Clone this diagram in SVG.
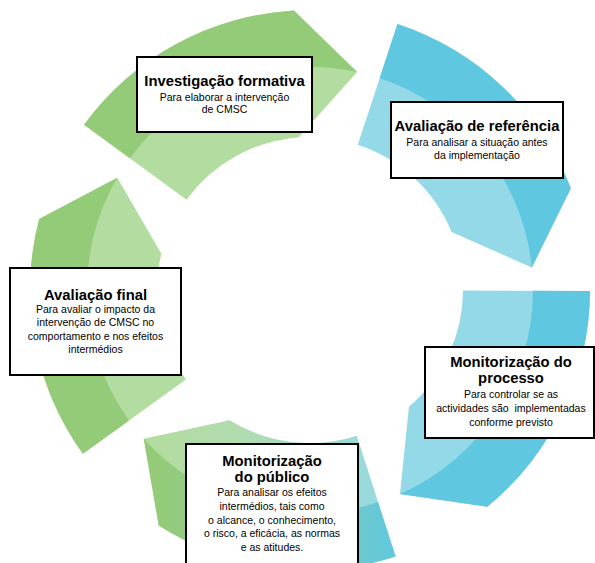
<svg xmlns="http://www.w3.org/2000/svg" width="595" height="563" viewBox="0 0 595 563">
  <defs>
    <linearGradient id="gLight" gradientUnits="userSpaceOnUse" x1="160" y1="0" x2="400" y2="0">
      <stop offset="0" stop-color="#b3dca0"/>
      <stop offset="0.35" stop-color="#b0dcb0"/>
      <stop offset="1" stop-color="#93d9e8"/>
    </linearGradient>
    <linearGradient id="gDark" gradientUnits="userSpaceOnUse" x1="160" y1="0" x2="400" y2="0">
      <stop offset="0" stop-color="#94cb79"/>
      <stop offset="0.35" stop-color="#8fcb98"/>
      <stop offset="1" stop-color="#5fc8e0"/>
    </linearGradient>
    <style>
      .box { fill: #ffffff; stroke: #000000; stroke-width: 2; }
      .title { font-family: "Liberation Sans", Arial, sans-serif; font-weight: bold; font-size: 14.8px; fill: #000; text-anchor: middle; }
      .sub { font-family: "Liberation Sans", Arial, sans-serif; font-size: 10.5px; fill: #000; text-anchor: middle; }
      .gl { fill: #b3dca0; }
      .gd { fill: #94cb79; }
      .bl { fill: #93d9e8; }
      .bd { fill: #5fc8e0; }
    </style>
  </defs>

  <g id="arcs">
    <!-- segment 1: top green -->
    <g id="seg-formativa">
      <path class="gl" d="M84.04,124.63 A280,280 0 0 1 293.88,10.46 L357.12,72.04 L298.53,137.43 A153,153 0 0 0 186.53,199.64 Z"/>
      <path class="gd" d="M84.04,124.63 A280,280 0 0 1 293.88,10.46 L357.12,72.04 A223,223 0 0 0 129.95,158.23 Z"/>
    </g>
    <!-- segment 2: top right blue -->
    <g id="seg-referencia">
      <path class="bl" d="M397.46,24.01 A280,280 0 0 1 570.87,188.29 L531.86,267.46 L451.56,231.94 A153,153 0 0 0 357.79,144.65 Z"/>
      <path class="bd" d="M397.46,24.01 A280,280 0 0 1 570.87,188.29 L531.86,267.46 A223,223 0 0 0 379.65,78.16 Z"/>
    </g>
    <!-- segment 3: right lower blue -->
    <g id="seg-processo">
      <path class="bl" d="M590.00,290.98 A280,280 0 0 1 487.35,506.68 L399.99,494.04 L408.96,406.69 A153,153 0 0 0 463.00,290.53 Z"/>
      <path class="bd" d="M590.00,290.98 A280,280 0 0 1 487.35,506.68 L399.99,494.04 A223,223 0 0 0 533.00,290.78 Z"/>
    </g>
    <!-- segment 4: bottom gradient -->
    <g id="seg-publico">
      <path fill="url(#gLight)" d="M395.60,556.60 A280,280 0 0 1 158.73,525.62 L143.76,438.64 L229.60,420.17 A153,153 0 0 0 356.77,435.68 Z"/>
      <path fill="url(#gDark)" d="M395.60,556.60 A280,280 0 0 1 158.73,525.62 L143.76,438.64 A223,223 0 0 0 378.17,502.32 Z"/>
    </g>
    <!-- segment 5: left green -->
    <g id="seg-final">
      <path class="gl" d="M82.90,453.79 A280,280 0 0 1 39.16,218.95 L117.27,177.83 L161.35,253.76 A153,153 0 0 0 185.91,379.50 Z"/>
      <path class="gd" d="M82.90,453.79 A280,280 0 0 1 39.16,218.95 L117.27,177.83 A223,223 0 0 0 129.13,420.45 Z"/>
    </g>
  </g>

  <g id="node-formativa">
    <rect class="box" x="137" y="57" width="175" height="75"/>
    <text class="title" x="224.5" y="86">Investigação formativa</text>
    <text class="sub" x="224.5" y="100.5">Para elaborar a intervenção</text>
    <text class="sub" x="224.5" y="113">de CMSC</text>
  </g>

  <g id="node-referencia">
    <rect class="box" x="391" y="102" width="172" height="76"/>
    <text class="title" x="477" y="131">Avaliação de referência</text>
    <text class="sub" x="477" y="146">Para analisar a situação antes</text>
    <text class="sub" x="477" y="158.5">da implementação</text>
  </g>

  <g id="node-final">
    <rect class="box" x="10" y="268" width="171" height="107"/>
    <text class="title" x="95.5" y="299.5">Avaliação final</text>
    <text class="sub" x="95.5" y="312.5">Para avaliar o impacto da</text>
    <text class="sub" x="95.5" y="326">intervenção de CMSC no</text>
    <text class="sub" x="95.5" y="339.5">comportamento e nos efeitos</text>
    <text class="sub" x="95.5" y="353">intermédios</text>
  </g>

  <g id="node-processo">
    <rect class="box" x="425" y="347" width="169" height="91"/>
    <text class="title" x="511" y="367">Monitorização do</text>
    <text class="title" x="511" y="383">processo</text>
    <text class="sub" x="511" y="398">Para controlar se as</text>
    <text class="sub" x="511" y="412" xml:space="preserve">actividades são  implementadas</text>
    <text class="sub" x="511" y="426">conforme previsto</text>
  </g>

  <g id="node-publico">
    <rect class="box" x="186" y="444" width="172" height="130"/>
    <text class="title" x="272" y="466">Monitorização</text>
    <text class="title" x="272" y="481.5">do público</text>
    <text class="sub" x="272" y="496">Para analisar os efeitos</text>
    <text class="sub" x="272" y="510">intermédios, tais como</text>
    <text class="sub" x="272" y="523.5">o alcance, o conhecimento,</text>
    <text class="sub" x="272" y="537">o risco, a eficácia, as normas</text>
    <text class="sub" x="272" y="550.5">e as atitudes.</text>
  </g>
</svg>
